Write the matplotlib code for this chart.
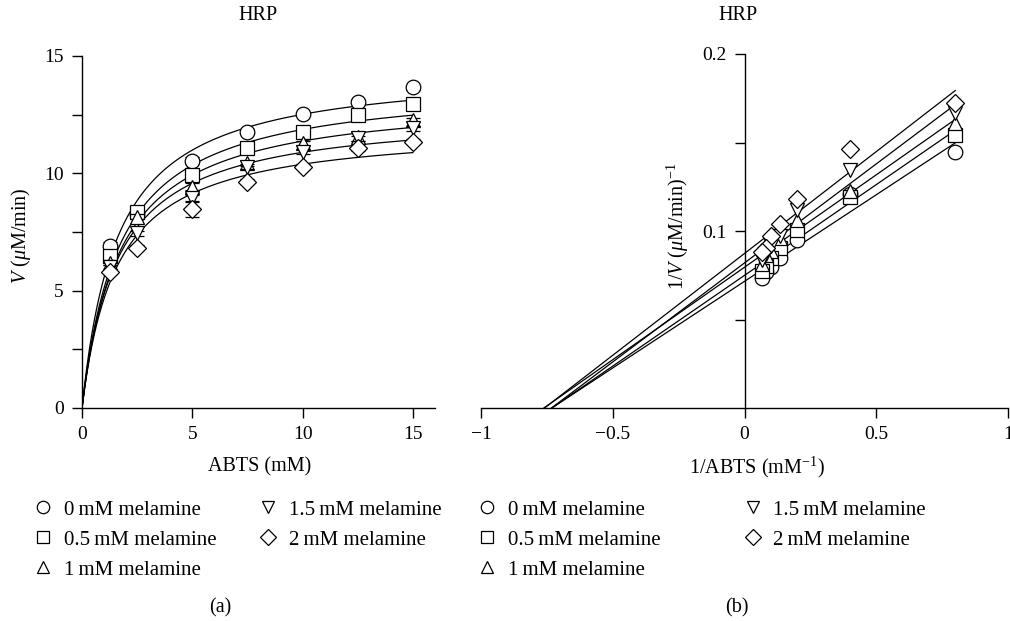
import numpy as np
import matplotlib
matplotlib.use("Agg")
import matplotlib.pyplot as plt
from matplotlib.lines import Line2D

plt.rcParams["font.family"] = ["Liberation Serif", "DejaVu Serif"]
plt.rcParams["font.size"] = 14.5
plt.rcParams["mathtext.fontset"] = "custom"
plt.rcParams["mathtext.rm"] = "Liberation Serif"
plt.rcParams["mathtext.it"] = "Liberation Serif:italic"

# ABTS concentrations (mM)
abts = np.array([1.25, 2.5, 5, 7.5, 10, 12.5, 15])

# initial rate V (uM/min) for each melamine concentration
v_0 = [6.92, 8.26, 10.54, 11.78, 12.53, 13.05, 13.66]
v_05 = [6.48, 8.37, 9.93, 11.09, 11.78, 12.47, 12.94]
v_1 = [6.20, 8.15, 9.43, 10.43, 11.28, 11.56, 12.27]
v_15 = [6.00, 7.44, 8.93, 10.28, 10.92, 11.49, 11.92]
v_2 = [5.81, 6.83, 8.48, 9.64, 10.28, 11.06, 11.35]

# error bars (mostly hidden behind markers)
err_0 = [0.15, 0.10, 0.15, 0.10, 0.10, 0.10, 0.10]
err_05 = [0.10, 0.15, 0.15, 0.10, 0.10, 0.10, 0.10]
err_1 = [0.10, 0.10, 0.15, 0.10, 0.10, 0.20, 0.10]
err_15 = [0.10, 0.10, 0.15, 0.10, 0.10, 0.10, 0.10]
err_2 = [0.10, 0.10, 0.35, 0.10, 0.10, 0.10, 0.10]

# Michaelis-Menten fit parameters
vmax = [14.53, 13.91, 13.32, 12.64, 12.03]
km = [1.61, 1.72, 1.71, 1.60, 1.58]

rates = [v_0, v_05, v_1, v_15, v_2]
errs = [err_0, err_05, err_1, err_15, err_2]
markers = ["o", "s", "^", "v", "D"]
msizes = [10.5, 10.5, 10.5, 10.5, 9]
labels = ["0\u2009mM melamine", "0.5\u2009mM melamine", "1\u2009mM melamine",
          "1.5\u2009mM melamine", "2\u2009mM melamine"]

W, H = 1010, 621
fig = plt.figure(figsize=(W / 100, H / 100), dpi=100)


def box(x0, y0, x1, y1):
    return [x0 / W, 1 - y1 / H, (x1 - x0) / W, (y1 - y0) / H]


ax1 = fig.add_axes(box(82, 56, 435, 408))
ax2 = fig.add_axes(box(481, 54, 1008, 408))

# (a) Michaelis-Menten
s_fit = np.linspace(0, 15, 400)
for i in range(5):
    ax1.plot(s_fit, vmax[i] * s_fit / (km[i] + s_fit), color="black", lw=0.9, zorder=2)
for i in range(5):
    ax1.errorbar(abts, rates[i], yerr=errs[i], fmt=markers[i], ms=msizes[i],
                 mfc="white", mec="black", mew=0.9, ecolor="black",
                 elinewidth=0.9, capsize=5, capthick=0.9, zorder=3 + i)

ax1.set_xlim(0, 16)
ax1.set_ylim(0, 15)
ax1.set_xticks([0, 5, 10, 15])
ax1.set_yticks([0, 5, 10, 15])
ax1.set_yticks([2.5, 7.5, 12.5], minor=True)

# (b) Lineweaver-Burk
inv_s = 1 / abts
for i in range(5):
    inv_v = 1 / np.array(rates[i])
    m, b = np.polyfit(inv_s, inv_v, 1)
    xs = np.array([-b / m, 0.8])
    ax2.plot(xs, m * xs + b, color="black", lw=0.9, zorder=2)
for i in range(5):
    ax2.plot(inv_s, 1 / np.array(rates[i]), ls="none", marker=markers[i], ms=msizes[i],
             mfc="white", mec="black", mew=0.9, zorder=3 + i)

ax2.set_xlim(-1, 1)
ax2.set_ylim(0, 0.2)
ax2.spines["left"].set_position(("data", 0))
ax2.set_xticks([-1, -0.5, 0, 0.5, 1])
ax2.set_xticklabels(["\u22121", "\u22120.5", "0", "0.5", "1"])
ax2.set_yticks([0.05, 0.1, 0.15, 0.2])
ax2.set_yticklabels(["", "0.1", "", "0.2"])

for ax in (ax1, ax2):
    ax.spines["top"].set_visible(False)
    ax.spines["right"].set_visible(False)
    ax.spines["left"].set_linewidth(1)
    ax.spines["bottom"].set_linewidth(1)
    ax.tick_params(which="both", direction="out", length=7, width=1, labelsize=14, pad=6)

# texts
fig.text(258 / W, 1 - 16 / H, "HRP", ha="center", va="center")
fig.text(738 / W, 1 - 16 / H, "HRP", ha="center", va="center")
fig.text(260 / W, 1 - 467 / H, "ABTS (mM)", ha="center", va="center")
fig.text(757 / W, 1 - 467 / H, r"1/ABTS (mM$^{-1}$)", ha="center", va="center")
fig.text(220 / W, 1 - 608 / H, "(a)", ha="center", va="center")
fig.text(737 / W, 1 - 608 / H, "(b)", ha="center", va="center")
fig.text(21 / W, 1 - 236 / H, r"$\mathit{V}$ ($\mu$M/min)", rotation=90,
         ha="center", va="center")
fig.text(678 / W, 1 - 226 / H, r"1/$\mathit{V}$ ($\mu$M/min)$^{-1}$", rotation=90,
         ha="center", va="center")

# legends under each panel
handles = [Line2D([], [], ls="none", marker=markers[i], ms=msizes[i] * 0.85,
                  mfc="white", mec="black", mew=0.9) for i in range(5)]
leg_kw = dict(loc="upper left", ncol=2, frameon=False, handlelength=1.0,
              handletextpad=0.5, labelspacing=0.5, borderpad=0, borderaxespad=0,
              fontsize=15)
fig.legend(handles, labels, bbox_to_anchor=(33 / W, 1 - 500 / H),
           columnspacing=1.95, **leg_kw)
fig.legend(handles, labels, bbox_to_anchor=(477 / W, 1 - 500 / H),
           columnspacing=3.9, **leg_kw)

fig.savefig("out.png", dpi=100)
